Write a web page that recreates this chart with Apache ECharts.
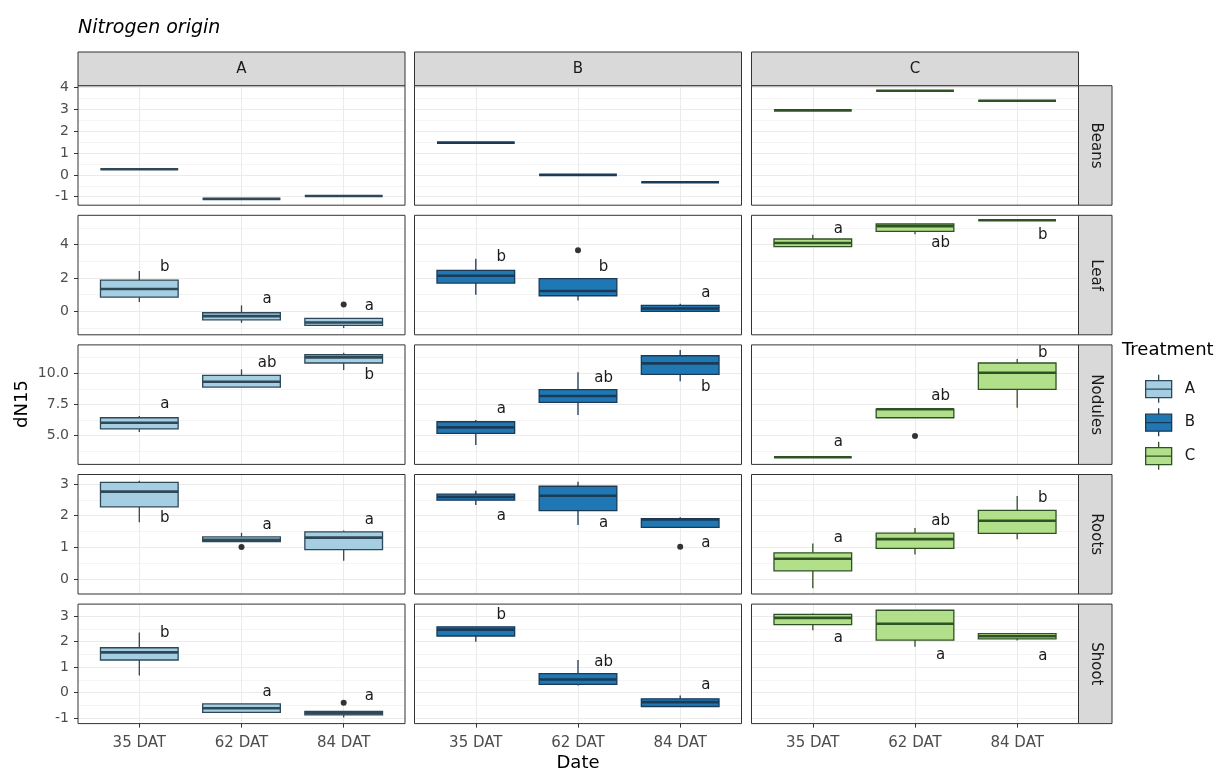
<!DOCTYPE html>
<html>
<head>
<meta charset="utf-8">
<title>Nitrogen origin</title>
<script src="https://cdn.jsdelivr.net/npm/echarts@6/dist/echarts.min.js"></script>
<style>
  html, body { margin: 0; padding: 0; background: #fff; }
  #chart { width: 1229px; height: 774px; }
</style>
</head>
<body>
<div id="chart"></div>
<script>
// ---- data ----
const dates = ['35 DAT', '62 DAT', '84 DAT'];
const treatments = ['A', 'B', 'C'];
const tissues = ['Beans', 'Leaf', 'Nodules', 'Roots', 'Shoot'];

// Beans: one value per treatment / date
const beansValues = [
  [0.26, -1.1, -0.97],
  [1.48, 0.0, -0.34],
  [2.96, 3.86, 3.4]
];

// boxes: [lower whisker, q1, median, q3, upper whisker], per treatment then date
const leafBoxes = [
  [[0.56, 0.86, 1.34, 1.88, 2.42], [-0.68, -0.5, -0.28, -0.08, 0.36], [-1.0, -0.84, -0.66, -0.42, -0.42]],
  [[1.0, 1.7, 2.14, 2.46, 3.16], [0.66, 0.94, 1.22, 1.96, 1.96], [-0.02, 0.0, 0.18, 0.36, 0.46]],
  [[3.88, 3.88, 4.1, 4.34, 4.6], [4.62, 4.8, 5.1, 5.24, 5.24], [5.46, 5.46, 5.46, 5.46, 5.46]]
];
const nodulesBoxes = [
  [[5.3, 5.54, 6.04, 6.44, 6.58], [8.9, 8.9, 9.33, 9.84, 10.32], [10.26, 10.83, 11.28, 11.49, 11.65]],
  [[4.25, 5.19, 5.67, 6.12, 6.26], [6.66, 7.68, 8.18, 8.69, 10.08], [9.36, 9.92, 10.8, 11.41, 11.87]],
  [[3.27, 3.27, 3.27, 3.27, 3.27], [6.44, 6.44, 7.12, 7.12, 7.12], [7.24, 8.72, 10.05, 10.83, 11.15]]
];
const rootsBoxes = [
  [[1.79, 2.28, 2.76, 3.05, 3.1], [1.18, 1.18, 1.24, 1.33, 1.46], [0.58, 0.93, 1.31, 1.49, 1.53]],
  [[2.34, 2.49, 2.59, 2.68, 2.79], [1.71, 2.16, 2.63, 2.93, 3.07], [1.63, 1.63, 1.88, 1.91, 1.95]],
  [[-0.29, 0.26, 0.64, 0.83, 1.12], [0.78, 0.97, 1.26, 1.45, 1.61], [1.26, 1.44, 1.84, 2.17, 2.62]]
];
const shootBoxes = [
  [[0.67, 1.28, 1.58, 1.76, 2.36], [-0.77, -0.77, -0.61, -0.44, -0.44], [-0.97, -0.87, -0.8, -0.73, -0.73]],
  [[2.0, 2.22, 2.47, 2.58, 2.58], [0.28, 0.33, 0.52, 0.75, 1.28], [-0.54, -0.54, -0.37, -0.24, -0.11]],
  [[2.45, 2.67, 2.93, 3.07, 3.1], [1.8, 2.06, 2.7, 3.23, 3.23], [2.04, 2.11, 2.21, 2.31, 2.31]]
];

// outliers: [treatment index, date index, value]
const leafOutliers = [[0, 2, 0.42], [1, 1, 3.66]];
const nodulesOutliers = [[2, 1, 4.98]];
const rootsOutliers = [[0, 1, 1.01], [1, 2, 1.02]];
const shootOutliers = [[0, 2, -0.39]];

// significance letters and the height they sit at
const leafLetters = [['b', 'a', 'a'], ['b', 'b', 'a'], ['a', 'ab', 'b']];
const leafLetterY = [[2.66, 0.76, 0.32], [3.26, 2.66, 1.12], [4.96, 4.12, 4.6]];
const nodulesLetters = [['a', 'ab', 'b'], ['a', 'ab', 'b'], ['a', 'ab', 'b']];
const nodulesLetterY = [[7.54, 10.85, 9.86], [7.12, 9.65, 8.93], [4.52, 8.2, 11.6]];
const rootsLetters = [['b', 'a', 'a'], ['a', 'a', 'a'], ['a', 'ab', 'b']];
const rootsLetterY = [[1.92, 1.71, 1.86], [2.0, 1.78, 1.12], [1.29, 1.83, 2.57]];
const shootLetters = [['b', 'a', 'a'], ['b', 'ab', 'a'], ['a', 'a', 'a']];
const shootLetterY = [[2.32, 0.02, -0.12], [3.04, 1.21, 0.28], [2.13, 1.48, 1.44]];

// y scales per row
const yMin = [-1.39, -1.4, 2.7, -0.47, -1.21];
const yMax = [4.09, 5.76, 12.28, 3.3, 3.47];
const yBreaks = [[-1, 0, 1, 2, 3, 4], [0, 2, 4], [5, 7.5, 10], [0, 1, 2, 3], [-1, 0, 1, 2, 3]];
const yMinorBreaks = [[-0.5, 0.5, 1.5, 2.5, 3.5], [-1, 1, 3, 5], [3.75, 6.25, 8.75, 11.25], [0.5, 1.5, 2.5], [-0.5, 0.5, 1.5, 2.5]];

// ---- assemble ----
const beansBoxes = beansValues.map(function (row) {
  return row.map(function (v) { return [v, v, v, v, v]; });
});
const boxes = [beansBoxes, leafBoxes, nodulesBoxes, rootsBoxes, shootBoxes];
const outliers = [[], leafOutliers, nodulesOutliers, rootsOutliers, shootOutliers];
const letters = [null, leafLetters, nodulesLetters, rootsLetters, shootLetters];
const letterY = [null, leafLetterY, nodulesLetterY, rootsLetterY, shootLetterY];

const fills = ['#A6CEE3', '#1F78B4', '#B2DF8A'];
const edges = ['#2F4858', '#1A3A57', '#2F5224'];
const font = '"DejaVu Sans", Verdana, sans-serif';

const colLeft = [78, 414.5, 751.5];
const colW = 327;
const rowTop0 = 85.7;
const rowStep = 129.6;
const rowH = 119.5;
const boxWidth = 0.76;
const letterShift = 0.25;

function boxRenderer(fill, edge) {
  return function (params, api) {
    const x = api.value(0);
    const lo = api.coord([x, api.value(1)]);
    const q1 = api.coord([x, api.value(2)]);
    const md = api.coord([x, api.value(3)]);
    const q3 = api.coord([x, api.value(4)]);
    const hi = api.coord([x, api.value(5)]);
    const half = api.size([boxWidth, 0])[0] / 2;
    const cx = lo[0];
    return {
      type: 'group',
      children: [
        { type: 'line', shape: { x1: cx, y1: hi[1], x2: cx, y2: q3[1] }, style: { stroke: edge, lineWidth: 1.3 } },
        { type: 'line', shape: { x1: cx, y1: q1[1], x2: cx, y2: lo[1] }, style: { stroke: edge, lineWidth: 1.3 } },
        { type: 'rect', shape: { x: cx - half, y: q3[1], width: 2 * half, height: q1[1] - q3[1] }, style: { fill: fill, stroke: edge, lineWidth: 1.3 } },
        { type: 'line', shape: { x1: cx - half, y1: md[1], x2: cx + half, y2: md[1] }, style: { stroke: edge, lineWidth: 2.6 } }
      ]
    };
  };
}

function letterRenderer(texts) {
  return function (params, api) {
    const p = api.coord([api.value(0), api.value(1)]);
    return {
      type: 'text',
      x: p[0], y: p[1],
      style: { text: texts[params.dataIndex], align: 'center', verticalAlign: 'middle', font: '15px ' + font, fill: '#1A1A1A' }
    };
  };
}

const grids = [], xAxes = [], yAxes = [], series = [];
const graphics = [];

tissues.forEach(function (tissue, r) {
  treatments.forEach(function (tr, c) {
    const g = r * 3 + c;
    grids.push({
      left: colLeft[c], top: rowTop0 + r * rowStep, width: colW, height: rowH,
      show: false, containLabel: false, outerBoundsMode: 'none'
    });
    xAxes.push({
      type: 'value', gridIndex: g, min: 0.4, max: 3.6, position: 'bottom',
      axisLine: { show: false, onZero: false },
      axisTick: { show: r === 4, customValues: [1, 2, 3], length: 4, lineStyle: { color: '#333' } },
      axisLabel: {
        show: r === 4, customValues: [1, 2, 3], margin: 12,
        color: '#4D4D4D', fontSize: 15, fontFamily: font,
        formatter: function (v) { return dates[Math.round(v) - 1]; }
      },
      splitLine: { show: true, lineStyle: { color: '#EBEBEB', width: 1 } }
    });
    yAxes.push({
      type: 'value', gridIndex: g, min: yMin[r], max: yMax[r], position: 'left',
      axisLine: { show: false, onZero: false },
      axisTick: { show: c === 0, customValues: yBreaks[r], length: 4, lineStyle: { color: '#333' } },
      axisLabel: {
        show: c === 0, customValues: yBreaks[r], margin: 9,
        color: '#4D4D4D', fontSize: 14, fontFamily: font,
        formatter: function (v) { return r === 2 ? v.toFixed(1) : String(v); }
      },
      splitLine: { show: true, lineStyle: { color: '#EBEBEB', width: 1 } }
    });
    yAxes.push({
      type: 'value', gridIndex: g, min: yMin[r], max: yMax[r], position: 'right',
      axisLine: { show: false, onZero: false },
      axisTick: { show: false, customValues: yMinorBreaks[r] },
      axisLabel: { show: false, customValues: yMinorBreaks[r] },
      splitLine: { show: true, lineStyle: { color: '#F4F4F4', width: 1 } }
    });

    series.push({
      type: 'custom', name: tr, xAxisIndex: g, yAxisIndex: 2 * g,
      renderItem: boxRenderer(fills[c], edges[c]),
      itemStyle: { color: fills[c], borderColor: edges[c] },
      encode: { x: 0, y: [1, 2, 3, 4, 5] },
      data: boxes[r][c].map(function (b, i) { return [i + 1].concat(b); }),
      silent: true, z: 3
    });

    const outs = outliers[r].filter(function (o) { return o[0] === c; });
    if (outs.length) {
      series.push({
        type: 'scatter', name: tr, xAxisIndex: g, yAxisIndex: 2 * g,
        symbolSize: 6, itemStyle: { color: '#333', opacity: 1 },
        data: outs.map(function (o) { return [o[1] + 1, o[2]]; }),
        silent: true, z: 4
      });
    }

    if (letters[r]) {
      series.push({
        type: 'custom', xAxisIndex: g, yAxisIndex: 2 * g,
        renderItem: letterRenderer(letters[r][c]),
        encode: { x: 0, y: 1 },
        data: letterY[r][c].map(function (v, i) { return [i + 1 + letterShift, v]; }),
        silent: true, z: 5
      });
    }

    // panel border on top of the grid lines
    graphics.push({
      type: 'rect', z: 20,
      shape: { x: colLeft[c], y: rowTop0 + r * rowStep, width: colW, height: rowH },
      style: { fill: null, stroke: '#333', lineWidth: 1 }
    });
  });

  // right strip
  const top = rowTop0 + r * rowStep;
  graphics.push({
    type: 'rect', z: 20, shape: { x: 1078.5, y: top, width: 33.5, height: rowH },
    style: { fill: '#D9D9D9', stroke: '#333', lineWidth: 1 }
  });
  graphics.push({
    type: 'text', z: 21, x: 1095.5, y: top + rowH / 2, rotation: -Math.PI / 2,
    style: { text: tissue, align: 'center', verticalAlign: 'middle', font: '15px ' + font, fill: '#1A1A1A' }
  });
});

// top strips
treatments.forEach(function (tr, c) {
  graphics.push({
    type: 'rect', z: 20, shape: { x: colLeft[c], y: 52, width: colW, height: rowTop0 - 52 },
    style: { fill: '#D9D9D9', stroke: '#333', lineWidth: 1 }
  });
  graphics.push({
    type: 'text', z: 21, x: colLeft[c] + colW / 2, y: (52 + rowTop0) / 2,
    style: { text: tr, align: 'center', verticalAlign: 'middle', font: '15px ' + font, fill: '#1A1A1A' }
  });
});

graphics.push({
  type: 'text', x: 78, y: 28,
  style: { text: 'Nitrogen origin', align: 'left', verticalAlign: 'middle', font: 'oblique 19px ' + font, fill: '#000' }
});
graphics.push({
  type: 'text', x: 578, y: 763,
  style: { text: 'Date', align: 'center', verticalAlign: 'middle', font: '18px ' + font, fill: '#000' }
});
graphics.push({
  type: 'text', x: 22, y: 404, rotation: Math.PI / 2,
  style: { text: 'dN15', align: 'center', verticalAlign: 'middle', font: '18px ' + font, fill: '#000' }
});
graphics.push({
  type: 'text', x: 1122, y: 350,
  style: { text: 'Treatment', align: 'left', verticalAlign: 'middle', font: '18px ' + font, fill: '#000' }
});

const keyIcon = 'path://M13,0L13,6M0,6L26,6L26,23L0,23ZM0,14.5L26,14.5M13,23L13,28';

const myChart = echarts.init(document.getElementById('chart'), null, { renderer: 'canvas' });
const option = {
  backgroundColor: '#fff',
  animation: false,
  grid: grids,
  xAxis: xAxes,
  yAxis: yAxes,
  series: series,
  legend: {
    orient: 'vertical', left: 1145, top: 374, padding: 0,
    itemWidth: 26, itemHeight: 28, itemGap: 4.2,
    selectedMode: false, icon: keyIcon,
    textStyle: { fontSize: 15, color: '#1A1A1A', fontFamily: font, padding: [0, 0, 0, 8] },
    data: treatments.map(function (tr, c) {
      return { name: tr, icon: keyIcon, itemStyle: { color: fills[c], borderColor: edges[c], borderWidth: 1.3 } };
    })
  },
  graphic: graphics
};
myChart.setOption(option);
window.addEventListener('resize', function () { myChart.resize(); });
</script>
</body>
</html>
